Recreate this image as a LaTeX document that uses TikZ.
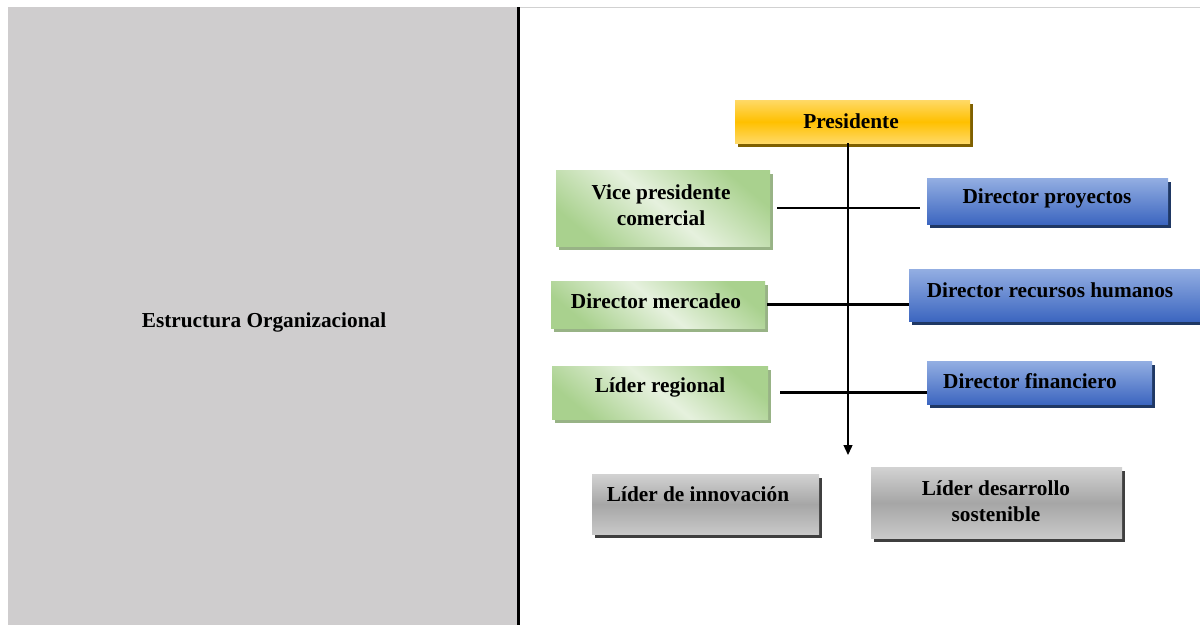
\documentclass[tikz,border=0pt]{standalone}
\usepackage{fontspec}
\setmainfont{Liberation Serif}
\usetikzlibrary{arrows.meta,shadows}
\definecolor{panel}{HTML}{CFCDCE}
\definecolor{gDark}{HTML}{A9D18E}
\definecolor{gLight}{HTML}{E6F1DE}
\definecolor{gShadow}{HTML}{98B386}
\definecolor{bTop}{HTML}{93AEE2}
\definecolor{bBot}{HTML}{3C66C0}
\definecolor{bShadow}{HTML}{1F3864}
\definecolor{yEdge}{HTML}{FFD966}
\definecolor{yMid}{HTML}{FFC000}
\definecolor{yShadow}{HTML}{7F6000}
\definecolor{kTop}{HTML}{D2D2D2}
\definecolor{kMid}{HTML}{A6A6A6}
\definecolor{kBot}{HTML}{C9C9C9}
\definecolor{kShadow}{HTML}{3F3F3F}
\tikzset{
  x=1pt, y=-1pt,
  boxbase/.style={draw=none, inner sep=0pt, anchor=north west},
  greenbox/.style={boxbase, top color=gDark, bottom color=gDark, middle color=gLight, shading angle=-40,
     drop shadow={shadow xshift=3pt, shadow yshift=-4pt, fill=gShadow, opacity=1}},
  bluebox/.style={boxbase, top color=bTop, bottom color=bBot,
     drop shadow={shadow xshift=3pt, shadow yshift=-4pt, fill=bShadow, opacity=1}},
  goldbox/.style={boxbase, top color=yEdge, bottom color=yEdge, middle color=yMid,
     drop shadow={shadow xshift=3pt, shadow yshift=-4pt, fill=yShadow, opacity=1}},
  graybox/.style={boxbase, top color=kTop, bottom color=kBot, middle color=kMid,
     drop shadow={shadow xshift=3pt, shadow yshift=-4pt, fill=kShadow, opacity=1}},
  lbl/.style={font=\fontsize{21.3}{26}\selectfont\bfseries, align=center, inner sep=0pt, text=black},
  hline/.style={line width=2.5pt, black},
}
\begin{document}
\begin{tikzpicture}
\useasboundingbox (0,0) rectangle (1200,625);
\fill[white] (0,0) rectangle (1200,625);
% left panel
\fill[panel] (8,7) rectangle (517,625);
\draw[line width=0.8pt, black!18] (520,7.5) -- (1200,7.5);
\draw[line width=3pt, black] (518.5,7) -- (518.5,625);
\node[lbl] (title) at (264,322) {Estructura Organizacional};

% boxes
\node[goldbox, minimum width=235pt, minimum height=43pt] (pres) at (735,100) {};
\node[greenbox, minimum width=214pt, minimum height=76pt] (vp) at (556,170) {};
\node[bluebox, minimum width=241pt, minimum height=46pt] (dp) at (927,178) {};
\node[greenbox, minimum width=214pt, minimum height=47pt] (dm) at (551,281) {};
\node[bluebox, minimum width=291pt, minimum height=52pt] (drh) at (909,269) {};
\node[greenbox, minimum width=216pt, minimum height=53pt] (lr) at (552,366) {};
\node[bluebox, minimum width=225pt, minimum height=43pt] (df) at (927,361) {};
\node[graybox, minimum width=227pt, minimum height=60pt] (li) at (592,474) {};
\node[graybox, minimum width=251pt, minimum height=71pt] (lds) at (871,467) {};

% labels
\node[lbl] (tpres) at (851,121) {Presidente};
\node[lbl] (tvp) at (661,205) {Vice presidente\\comercial};
\node[lbl] (tdp) at (1047,198) {Director proyectos};
\node[lbl] (tdm) at (656,301) {Director mercadeo};
\node[lbl] (tdrh) at (1050,290) {Director recursos humanos};
\node[lbl] (tlr) at (660,387) {Líder regional};
\node[lbl] (tdf) at (1030,381) {Director financiero};
\node[lbl] (tli) at (698,494) {Líder de innovación};
\node[lbl] (tlds) at (996,501) {Líder desarrollo\\sostenible};

% connectors
\coordinate (arrowend) at (848,455);
\draw[line width=1.3pt, -{Triangle[width=9pt,length=10pt]}] (pres.south -| arrowend) -- (arrowend);
\draw[hline] ([xshift=7pt]vp.east) -- ([xshift=-7pt]vp.east -| dp.west);
\draw[hline] ([xshift=2pt]dm.east) -- (dm.east -| drh.west);
\draw[hline] ([xshift=12pt]lr.east) -- (lr.east -| df.west);
\end{tikzpicture}
\end{document}
